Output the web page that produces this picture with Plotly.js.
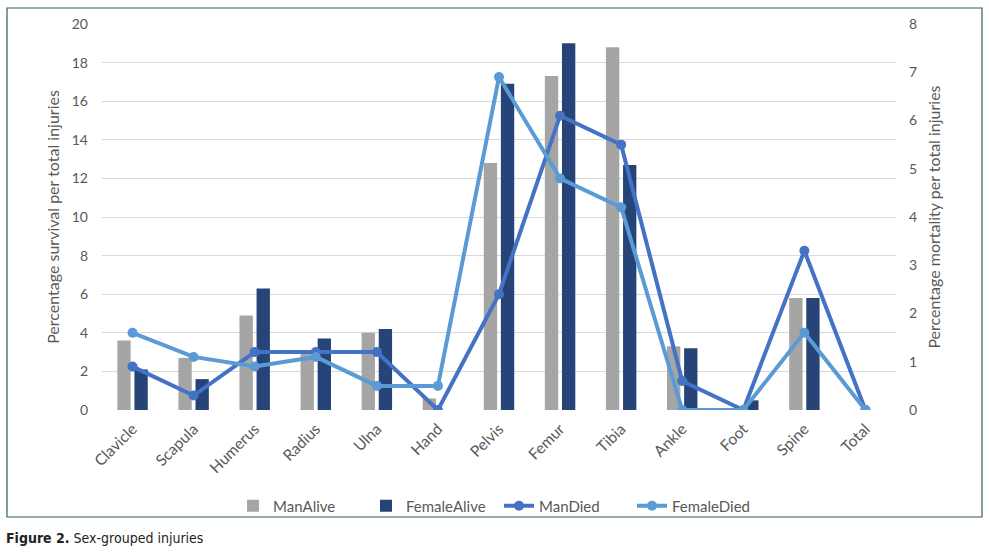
<!DOCTYPE html>
<html><head><meta charset="utf-8">
<script src="https://cdn.plot.ly/plotly-3.0.1.min.js"></script>
<style>html,body{margin:0;padding:0;background:#fff;}#chart{width:989px;height:553px;}</style>
</head><body><div id="chart"></div>
<script>
var categories = ["Clavicle","Scapula","Humerus","Radius","Ulna","Hand","Pelvis","Femur","Tibia","Ankle","Foot","Spine","Total"];
var manAlive    = [3.6, 2.7, 4.9, 3.0, 4.0, 0.6, 12.8, 17.3, 18.8, 3.3, 0, 5.8, 0];
var femaleAlive = [2.1, 1.6, 6.3, 3.7, 4.2, 0, 16.9, 19.0, 12.7, 3.2, 0.5, 5.8, 0];
var manDied     = [0.9, 0.3, 1.2, 1.2, 1.2, 0, 2.4, 6.1, 5.5, 0.6, 0, 3.3, 0];
var femaleDied  = [1.6, 1.1, 0.9, 1.1, 0.5, 0.5, 6.9, 4.8, 4.2, 0, 0, 1.6, 0];
var leftTicks = [0,2,4,6,8,10,12,14,16,18,20];
var rightTicks = [0,1,2,3,4,5,6,7,8];

var font = "Lato, 'Open Sans', sans-serif";
var traces = [
  {type:"bar", name:"ManAlive", x:categories, y:manAlive, marker:{color:"#a5a5a5"}},
  {type:"bar", name:"FemaleAlive", x:categories, y:femaleAlive, marker:{color:"#264478"}},
  {type:"scatter", mode:"lines+markers", name:"ManDied", x:categories, y:manDied, yaxis:"y2",
   line:{color:"#4472c4", width:4}, marker:{color:"#4472c4", size:10}},
  {type:"scatter", mode:"lines+markers", name:"FemaleDied", x:categories, y:femaleDied, yaxis:"y2",
   line:{color:"#5b9bd5", width:4}, marker:{color:"#5b9bd5", size:10}}
];
var layout = {
  width:989, height:553,
  margin:{l:102, r:93, t:24, b:143},
  paper_bgcolor:"#fff", plot_bgcolor:"#fff",
  font:{family:font, color:"#595959", size:14},
  barmode:"group", bargap:0.44, bargroupgap:0.22,
  showlegend:true,
  legend:{orientation:"h", x:0.5, xanchor:"center", y:(410-506)/386, yanchor:"middle",
          entrywidth:88, entrywidthmode:"pixels",
          bgcolor:"rgba(0,0,0,0)", font:{size:15, color:"#595959"}, traceorder:"normal"},
  xaxis:{range:[-0.5,12.5], automargin:false, tickangle:-45, showgrid:false, zeroline:false, showline:false, ticks:"",
         ticklabelstandoff:6, tickfont:{size:15.5, color:"#595959"}},
  yaxis:{range:[0,20], automargin:false, tickvals:leftTicks, showgrid:true, gridcolor:"#d9d9d9", gridwidth:1,
         zeroline:false, showline:false, ticks:"", ticklabelstandoff:13, tickfont:{size:14},
         title:{text:"Percentage survival per total injuries", font:{size:16, color:"#595959"}, standoff:8}},
  yaxis2:{range:[0,8], automargin:false, tickvals:rightTicks, overlaying:"y", side:"right", showgrid:false,
          zeroline:false, showline:false, ticks:"", ticklabelstandoff:12, tickfont:{size:14},
          title:{text:"Percentage mortality per total injuries", font:{size:16, color:"#595959"}, standoff:12}},
  shapes:[{type:"rect", xref:"paper", yref:"paper",
           x0:(7-102)/794, x1:(982-102)/794, y0:(410-517)/386, y1:(410-8)/386,
           line:{color:"#2f5d67", width:1.2}, fillcolor:"rgba(0,0,0,0)"}],
  annotations:[{xref:"paper", yref:"paper", x:(4-102)/794, y:(410-538)/386, xanchor:"left", yanchor:"middle",
                showarrow:false, text:"<b>Figure 2.</b> Sex-grouped injuries",
                font:{family:"'Liberation Sans Narrow','DejaVu Sans Condensed', Arial, sans-serif", size:14, color:"#222"}}]
};
Plotly.newPlot("chart", traces, layout, {displayModeBar:false, staticPlot:true});
</script></body></html>
